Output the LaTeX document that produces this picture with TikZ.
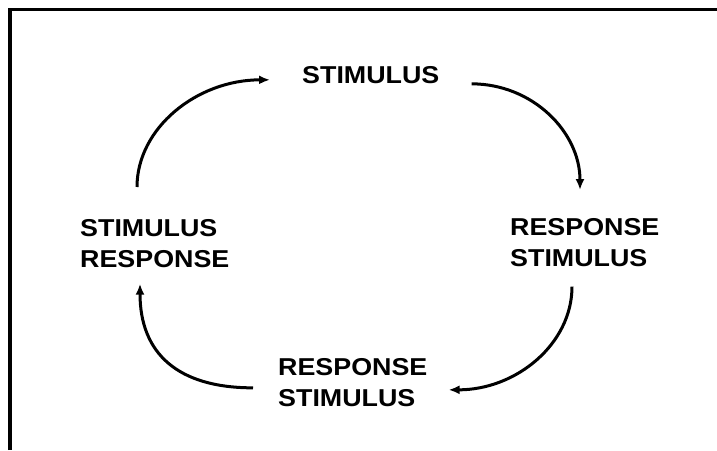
\documentclass[tikz,border=0pt]{standalone}
\usepackage{fontspec}
\newfontfamily\diagfont[FakeStretch=1.1]{Liberation Sans}
\usetikzlibrary{arrows.meta,calc}
\tikzset{
  word/.style={font=\diagfont\bfseries\fontsize{24.4}{31}\selectfont, align=left, inner sep=0pt, anchor=north west, text=black},
  flow/.style={-{Latex[length=11pt,width=9pt]}, line width=3pt, draw=black},
  rim/.style={line width=3.5pt, draw=black}
}

\begin{document}
\begin{tikzpicture}[x=1pt,y=-1pt]
  \useasboundingbox (0,0) rectangle (717,450);
  % Frame: left and top edges only
  \draw[rim] (10,450) |- (717,9.7);

  % The four stages
  \node[word] (stim) at (302,66) {STIMULUS};
  \node[word] (rs) at (510,218) {RESPONSE\\STIMULUS};
  \node[word] (rsb) at (278,358) {RESPONSE\\STIMULUS};
  \node[word] (sr) at (80,219) {STIMULUS\\RESPONSE};

  % Arrows round the cycle
  \draw[flow] ($(sr.north west)+(57,-32)$) .. controls +(0,-59) and +(-73,0) .. ($(stim.west)+(-32,5)$);
  \draw[flow] ($(stim.east)+(32,9)$) .. controls +(61,0) and +(0,-58) .. ($(rs.north west)+(70,-28)$);
  \draw[flow] ($(rs.south west)+(62,20)$) .. controls +(0,57) and +(68,0) .. ($(rsb.east)+(21,7.5)$);
  \draw[flow] ($(rsb.west)+(-25,5.5)$) .. controls +(-75,0) and +(0,70) .. ($(sr.south west)+(60,16)$);
\end{tikzpicture}
\end{document}
